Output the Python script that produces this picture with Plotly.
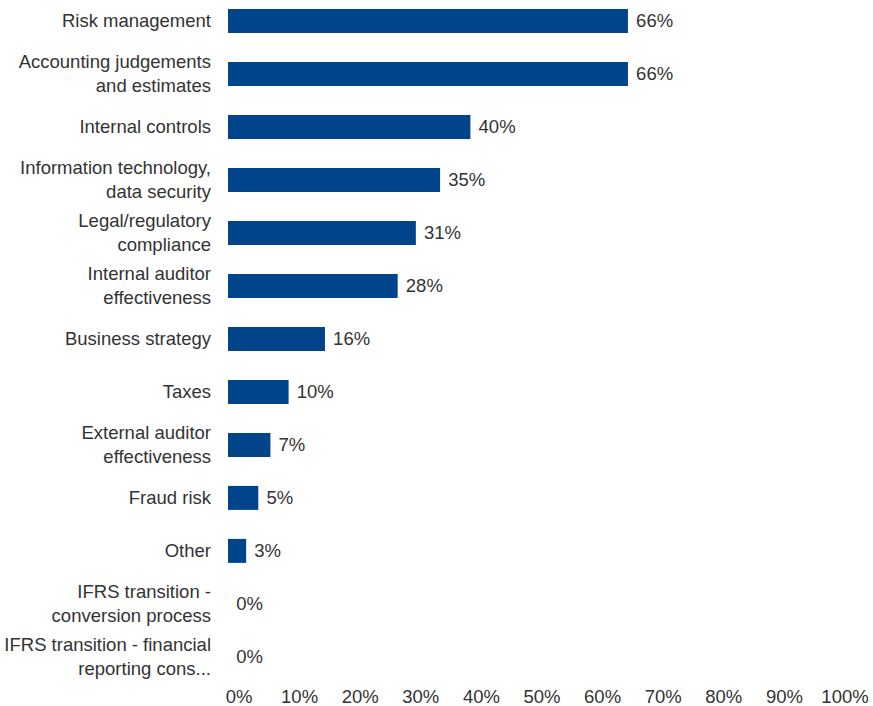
import plotly.graph_objects as go

# Survey topics (top to bottom) and share of respondents
topics = [
    "Risk management",
    "Accounting judgements<br>and estimates",
    "Internal controls",
    "Information technology,<br>data security",
    "Legal/regulatory<br>compliance",
    "Internal auditor<br>effectiveness",
    "Business strategy",
    "Taxes",
    "External auditor<br>effectiveness",
    "Fraud risk",
    "Other",
    "IFRS transition -<br>conversion process",
    "IFRS transition - financial<br>reporting cons...",
]
shares = [66, 66, 40, 35, 31, 28, 16, 10, 7, 5, 3, 0, 0]
x_ticks = [0, 10, 20, 30, 40, 50, 60, 70, 80, 90, 100]

BAR_BLUE = "#00458B"
TEXT = "#333333"
FONT = "Liberation Sans, Arial, sans-serif"
SIZE = 18.5

fig = go.Figure(
    go.Bar(
        x=shares,
        y=list(range(len(topics))),
        orientation="h",
        marker=dict(color=BAR_BLUE, line=dict(width=0)),
        width=0.453,
        text=[f"\u00a0{v}%" for v in shares],
        textposition="outside",
        textfont=dict(family=FONT, size=SIZE, color=TEXT),
        cliponaxis=False,
        hoverinfo="skip",
    )
)

fig.update_layout(
    width=873,
    height=706,
    margin=dict(l=228, r=39, t=0, b=26),
    paper_bgcolor="white",
    plot_bgcolor="white",
    showlegend=False,
    font=dict(family=FONT, size=SIZE, color=TEXT),
)

fig.update_xaxes(
    range=[0, 100],
    tickmode="array",
    tickvals=x_ticks,
    ticktext=[f"{t}%" for t in x_ticks],
    showgrid=False,
    zeroline=False,
    showline=False,
    ticks="",
    automargin=False,
    ticklabelshift=11,
    ticklabelstandoff=3,
    tickfont=dict(family=FONT, size=SIZE, color=TEXT),
)

fig.update_yaxes(
    tickmode="array",
    tickvals=list(range(len(topics))),
    ticktext=topics,
    range=[12.436, -0.394],
    showgrid=False,
    zeroline=False,
    showline=False,
    ticks="",
    automargin=False,
    ticklabelstandoff=16,
    tickfont=dict(family=FONT, size=SIZE, color=TEXT),
)

fig.write_html("out.html")
